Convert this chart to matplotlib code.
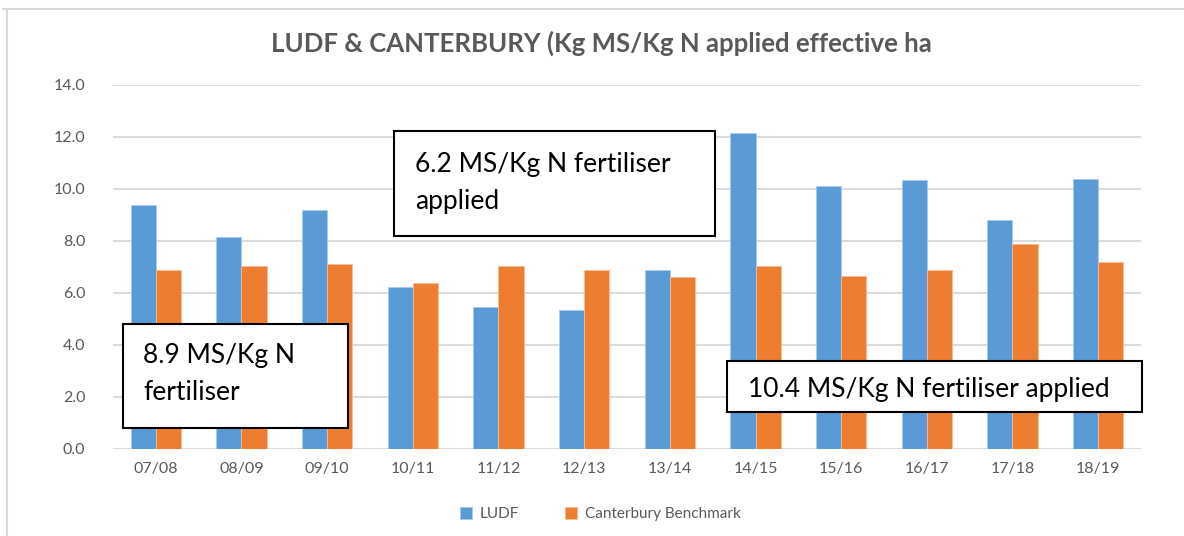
import numpy as np
import matplotlib.pyplot as plt
from matplotlib.patches import Rectangle
from matplotlib.lines import Line2D

plt.rcParams['font.family'] = ['Lato', 'DejaVu Sans']

seasons = ['07/08', '08/09', '09/10', '10/11', '11/12', '12/13', '13/14',
           '14/15', '15/16', '16/17', '17/18', '18/19']
ludf = [9.4, 8.15, 9.2, 6.25, 5.45, 5.35, 6.9, 12.15, 10.1, 10.35, 8.8, 10.4]
canterbury = [6.9, 7.05, 7.1, 6.4, 7.05, 6.9, 6.6, 7.05, 6.65, 6.9, 7.9, 7.2]
yticks = np.arange(0, 14.1, 2.0)

blue = '#5B9BD5'
orange = '#ED7D31'
grey_txt = '#595959'

W, H = 1184, 536
fig = plt.figure(figsize=(W / 100, H / 100), dpi=100)
ax = fig.add_axes([113 / W, 1 - 449 / H, (1141 - 113) / W, (449 - 85) / H])

x = np.arange(len(seasons))
bw = 0.292
ax.bar(x - bw / 2, ludf, bw, color=blue, edgecolor='#A9CBEA', linewidth=0.6,
       label='LUDF', zorder=3)
ax.bar(x + bw / 2, canterbury, bw, color=orange, edgecolor='#F6BE98', linewidth=0.6,
       label='Canterbury Benchmark', zorder=3)

ax.set_xlim(-0.5, len(seasons) - 0.5)
ax.set_ylim(0, 14)
ax.set_yticks(yticks)
ax.set_yticklabels([f'{v:.1f}' for v in yticks])
ax.set_xticks(x)
ax.set_xticklabels(seasons)
ax.tick_params(length=0, labelsize=11.5, colors=grey_txt)
ax.tick_params(axis='x', pad=9)
ax.tick_params(axis='y', pad=20)
ax.grid(axis='y', color='#D9D9D9', linewidth=1.3, zorder=0)
for s in ax.spines.values():
    s.set_visible(False)

fig.text(601 / W, 1 - 43 / H, 'LUDF & CANTERBURY (Kg MS/Kg N applied effective ha',
         ha='center', va='center', fontsize=18.5, fontweight='bold', color=grey_txt)

leg = fig.legend(loc='center', bbox_to_anchor=(600 / W, 1 - 514 / H), ncol=2,
                 frameon=False, fontsize=11, handlelength=0.8, handleheight=0.8,
                 columnspacing=3.0, handletextpad=0.5)
for t in leg.get_texts():
    t.set_color(grey_txt)

# annotation boxes (pixel positions in the figure)
boxes = [
    ((123, 324, 348, 428), ['8.9 MS/Kg N', 'fertiliser'], 143, [355, 392]),
    ((394, 131, 715, 236), ['6.2 MS/Kg N fertiliser', 'applied'], 415, [165, 202]),
    ((727, 361, 1142, 412), ['10.4 MS/Kg N fertiliser applied'], 748, [389]),
]
for (x0, y0, x1, y1), lines, tx, tys in boxes:
    fig.patches.append(Rectangle((x0 / W, 1 - y1 / H), (x1 - x0) / W, (y1 - y0) / H,
                                 transform=fig.transFigure, facecolor='white',
                                 edgecolor='black', linewidth=1.5, zorder=5))
    for line, ty in zip(lines, tys):
        fig.text(tx / W, 1 - ty / H, line, ha='left', va='center', fontsize=19,
                 color='black', zorder=6)

# chart frame edges
fig.lines.append(Line2D([3 / W, 1], [1 - 9 / H, 1 - 9 / H], transform=fig.transFigure,
                        color='#D9D9D9', linewidth=1.5))
fig.lines.append(Line2D([7 / W, 7 / W], [0, 1 - 9 / H], transform=fig.transFigure,
                        color='#D9D9D9', linewidth=1.5))

fig.savefig('out.png', dpi=100)
